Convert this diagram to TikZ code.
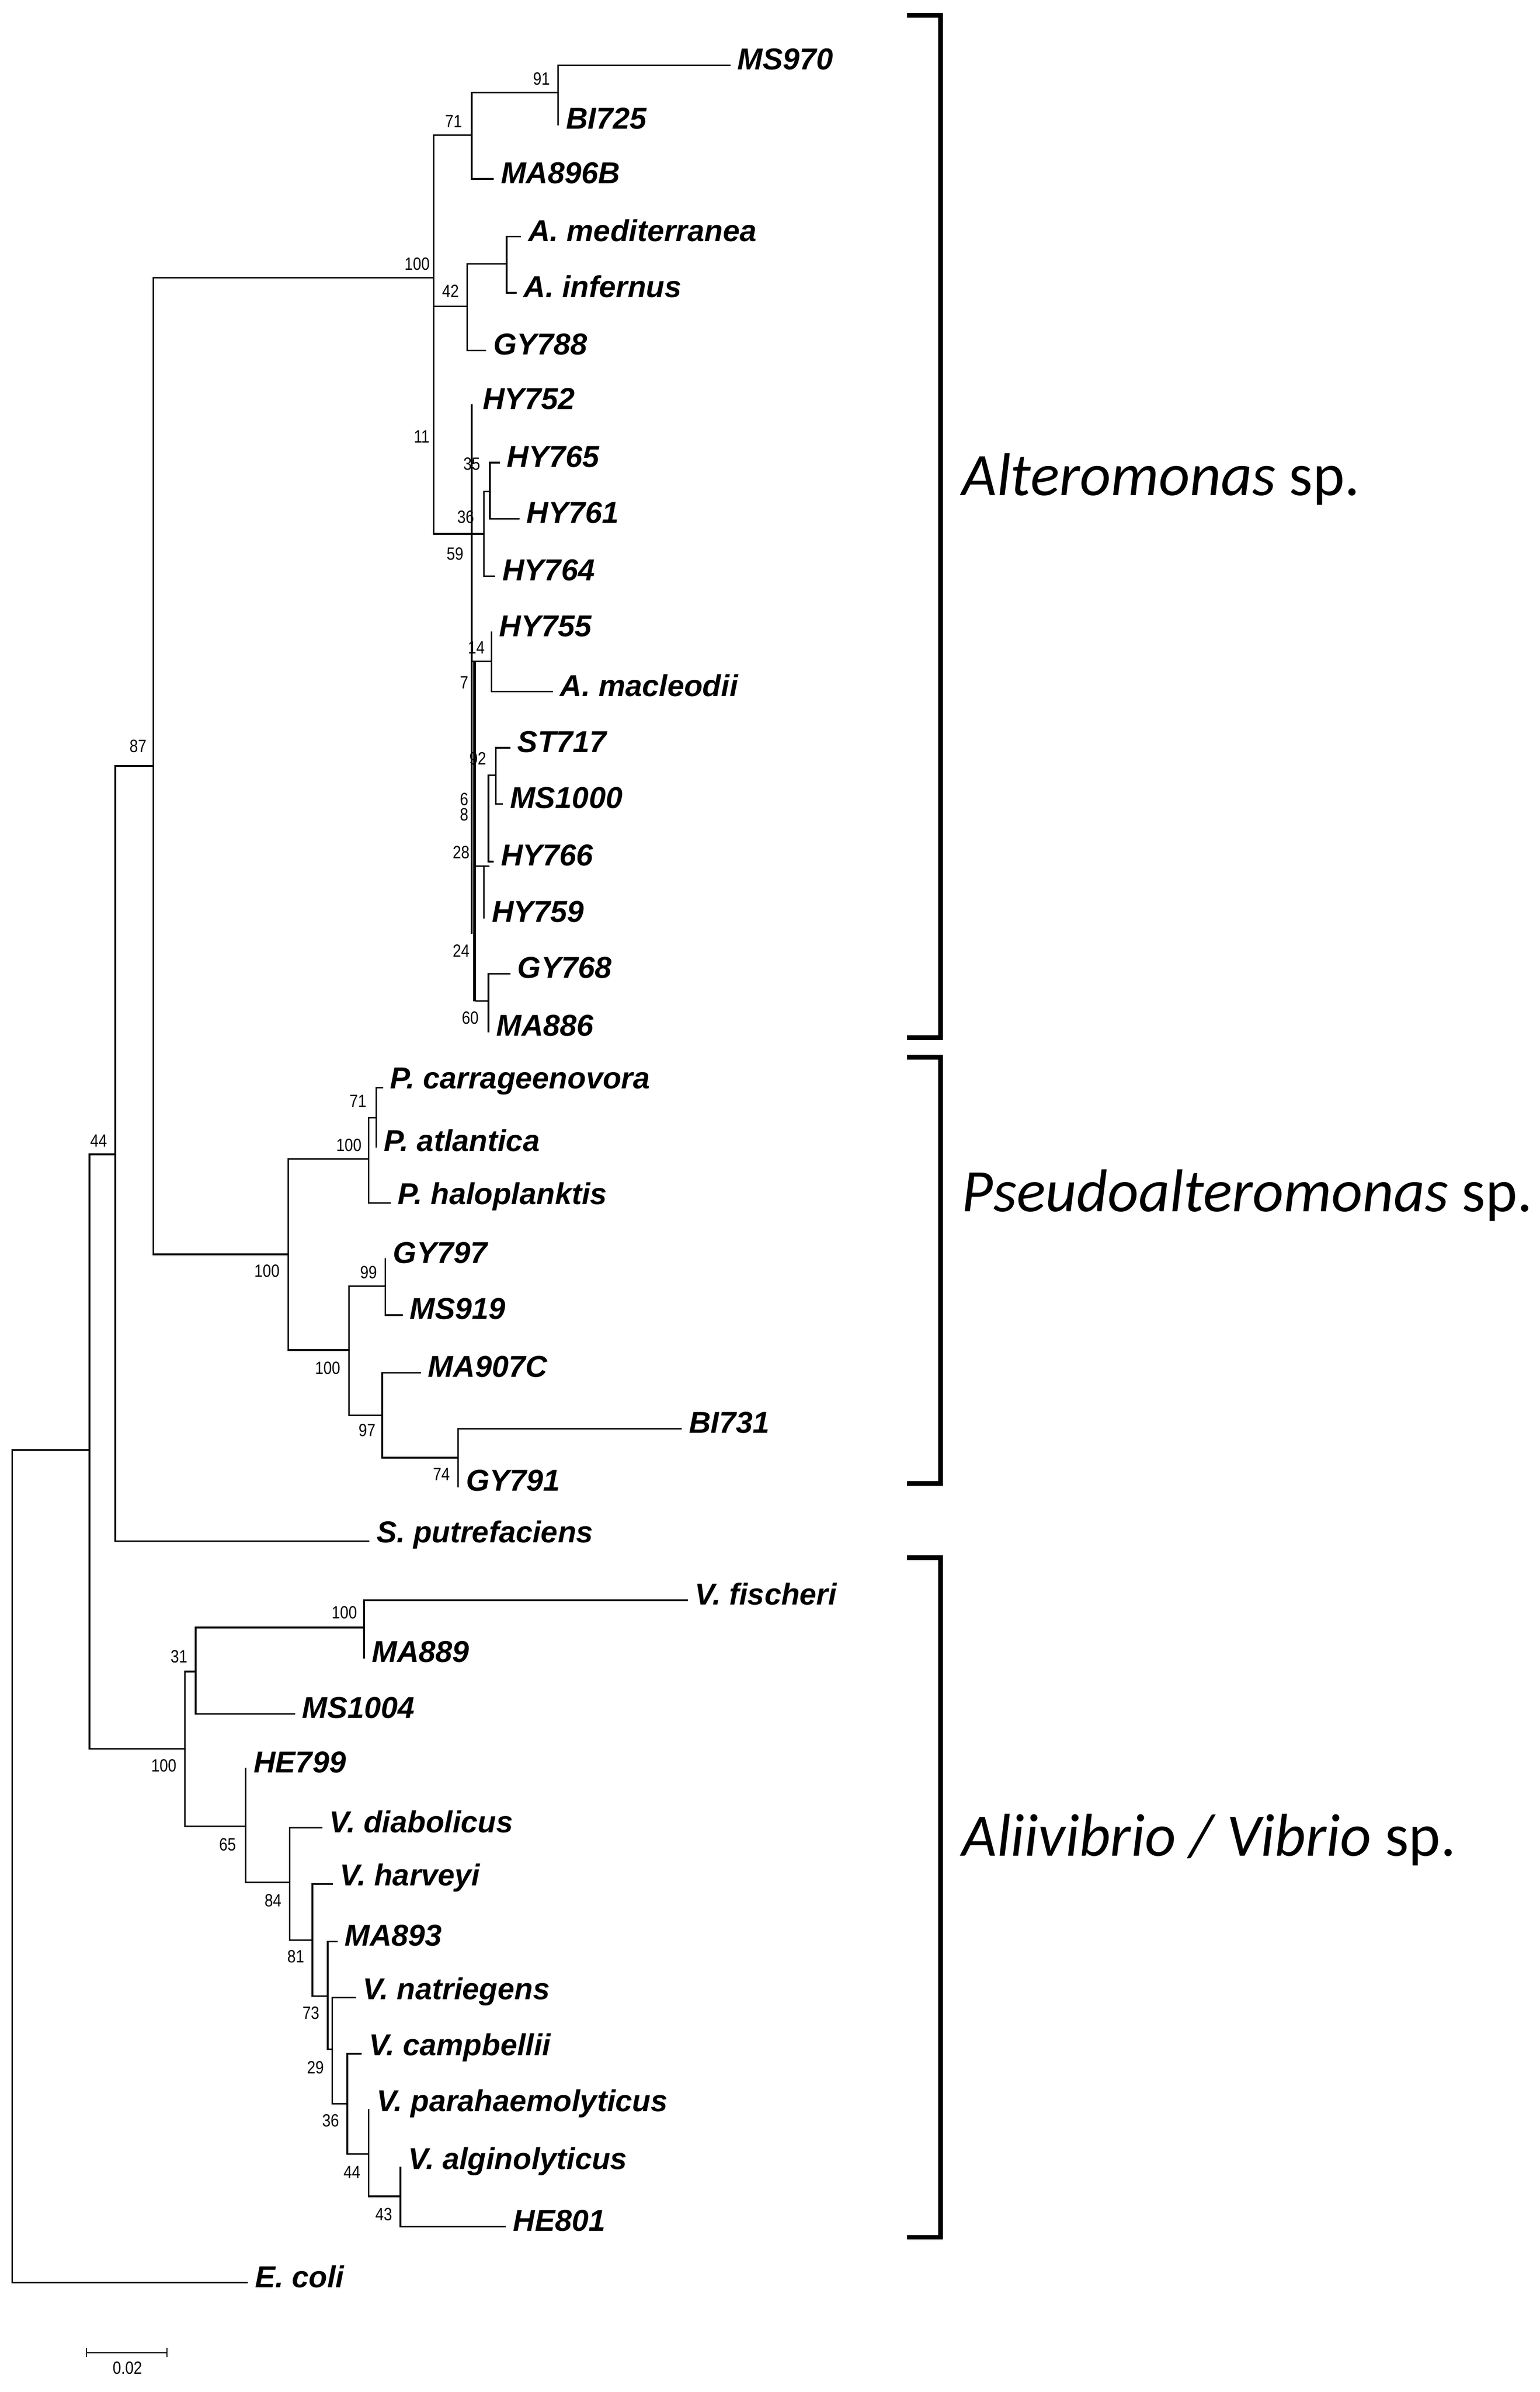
\documentclass[tikz,border=0pt]{standalone}
\usepackage{fontspec}
\setmainfont{Liberation Sans}
\newfontfamily\bigf{Carlito}
\begin{document}
\begin{tikzpicture}[x=0.03cm,y=-0.03cm,
 br/.style={line width=0.9pt,line cap=rect},
 lf/.style={anchor=west,inner sep=0pt,font=\fontsize{17}{18}\selectfont\bfseries\itshape},
 bs/.style={inner sep=0pt,font=\fontsize{10}{11}\selectfont,xscale=0.85},
 brk/.style={line width=2.6pt},
 grp/.style={anchor=west,inner sep=0pt,font=\bigf\fontsize{34}{38}\selectfont}]
\useasboundingbox (0,0) rectangle (1015,1577);
% root and backbone
\draw[br] (8,1505)--(8,956)--(59,956);
\draw[br] (8,1505)--(163,1505);
\draw[br] (76,761)--(59,761)--(59,1153)--(122,1153);
\draw[br] (101,505)--(76,505)--(76,1016)--(243,1016);
\draw[br] (286,183)--(101,183)--(101,827)--(190,827);
% Alteromonas
\draw[br] (311,89)--(286,89)--(286,352)--(311,352);
\draw[br] (368,61)--(311,61)--(311,118)--(325,118);
\draw[br] (481,43)--(368,43)--(368,82);
\draw[br] (286,202)--(308,202);
\draw[br] (334,174)--(308,174)--(308,231)--(320,231);
\draw[br] (343,156)--(334,156)--(334,193)--(340,193);
\draw[br] (311,267)--(311,615);
\draw[br] (319,352)--(319,380)--(326,380);
\draw[br] (311,352)--(319,352)--(319,324)--(323,324);
\draw[br] (329,305)--(323,305)--(323,342)--(342,342);
\draw[br] (311,436)--(314,436);
\draw[line width=1.6pt] (313,436)--(313,660);
\draw[br] (314,436)--(324,436);
\draw[br] (324,417)--(324,456)--(364,456);
\draw[br] (314,571)--(322,571);
\draw[br] (319,571)--(319,605);
\draw[br] (327,511)--(322,511)--(322,568)--(325,568);
\draw[br] (336,493)--(327,493)--(327,530)--(331,530);
\draw[br] (314,660)--(322,660);
\draw[br] (336,642)--(322,642)--(322,680);
% Pseudoalteromonas
\draw[br] (243,764)--(190,764)--(190,890)--(230,890);
\draw[br] (243,737)--(243,793)--(257,793);
\draw[br] (243,737)--(248,737);
\draw[br] (252,717)--(248,717)--(248,756);
\draw[br] (254,848)--(230,848)--(230,933)--(252,933);
\draw[br] (254,830)--(254,867)--(265,867);
\draw[br] (277,905)--(252,905)--(252,961)--(302,961);
\draw[br] (449,942)--(302,942)--(302,980);
% Vibrio
\draw[br] (129,1102)--(122,1102)--(122,1204)--(162,1204);
\draw[br] (240,1073)--(129,1073)--(129,1130)--(194,1130);
\draw[br] (453,1055)--(240,1055)--(240,1093);
\draw[br] (162,1166)--(162,1241)--(191,1241);
\draw[br] (212,1205)--(191,1205)--(191,1279)--(206,1279);
\draw[br] (219,1242)--(206,1242)--(206,1316)--(216,1316);
\draw[br] (222,1280)--(216,1280)--(216,1351)--(219,1351);
\draw[br] (234,1317)--(219,1317)--(219,1387)--(229,1387);
\draw[br] (238,1354)--(229,1354)--(229,1420)--(243,1420);
\draw[br] (243,1391)--(243,1448)--(264,1448);
\draw[br] (264,1429)--(264,1468)--(333,1468);
% leaf labels
\foreach \x/\y/\t [count=\i] in {481/43/MS970,368/82/BI725,325/118/MA896B,343/156/A. mediterranea,340/193/A. infernus,320/231/GY788,313/267/HY752,329/305/HY765,342/342/HY761,326/380/HY764,324/417/HY755,364/456/A. macleodii,336/493/ST717,331/530/MS1000,325/568/HY766,319/605/HY759,336/642/GY768,322/680/MA886,252/717/P. carrageenovora,248/756/P. atlantica,257/793/P. haloplanktis,254/830/GY797,265/867/MS919,277/905/MA907C,449/942/BI731,302/980/GY791,243/1016/S. putrefaciens,453/1055/V. fischeri,240/1093/MA889,194/1130/MS1004,162/1166/HE799,212/1205/V. diabolicus,219/1242/V. harveyi,222/1280/MA893,234/1317/V. natriegens,238/1354/V. campbellii,243/1391/V. parahaemolyticus,264/1429/V. alginolyticus,333/1468/HE801,163/1505/E. coli}
  \node[lf] (leaf\i) at (\x+5,\y-4) {\t};
% bootstrap values
\foreach \x/\y/\t [count=\i] in {357/52/91,299/80/71,275/174/100,297/192/42,278/288/11,311/306/35,307/341/36,300/365/59,314/427/14,306/450/7,315/500/92,306/527/6,306/537/8,304/562/28,304/627/24,310/671/60,91/492/87,65/752/44,236/726/71,230/755/100,176/838/100,243/839/99,216/902/100,242/943/97,291/972/74,227/1063/100,118/1092/31,108/1164/100,150/1216/65,180/1253/84,195/1290/81,205/1327/73,208/1363/29,218/1398/36,232/1432/44,253/1460/43}
  \node[bs] (bs\i) at (\x,\y) {\t};
% brackets
\draw[brk] (598,10)--(620,10)--(620,684)--(598,684);
\draw[brk] (598,697)--(620,697)--(620,978)--(598,978);
\draw[brk] (598,1027)--(620,1027)--(620,1475)--(598,1475);
\node[grp] (g1) at (634,316) {\itshape Alteromonas\upshape{} sp.};
\node[grp] (g2) at (634,788) {\itshape Pseudoalteromonas\upshape{} sp.};
\node[grp] (g3) at (634,1213) {\itshape Aliivibrio / Vibrio\upshape{} sp.};
% scale bar
\draw[line width=0.6pt] (57,1548)--(57,1554) (57,1551)--(110,1551) (110,1548)--(110,1554);
\node[bs] (sc) at (84,1561) {0.02};
\end{tikzpicture}
\end{document}
